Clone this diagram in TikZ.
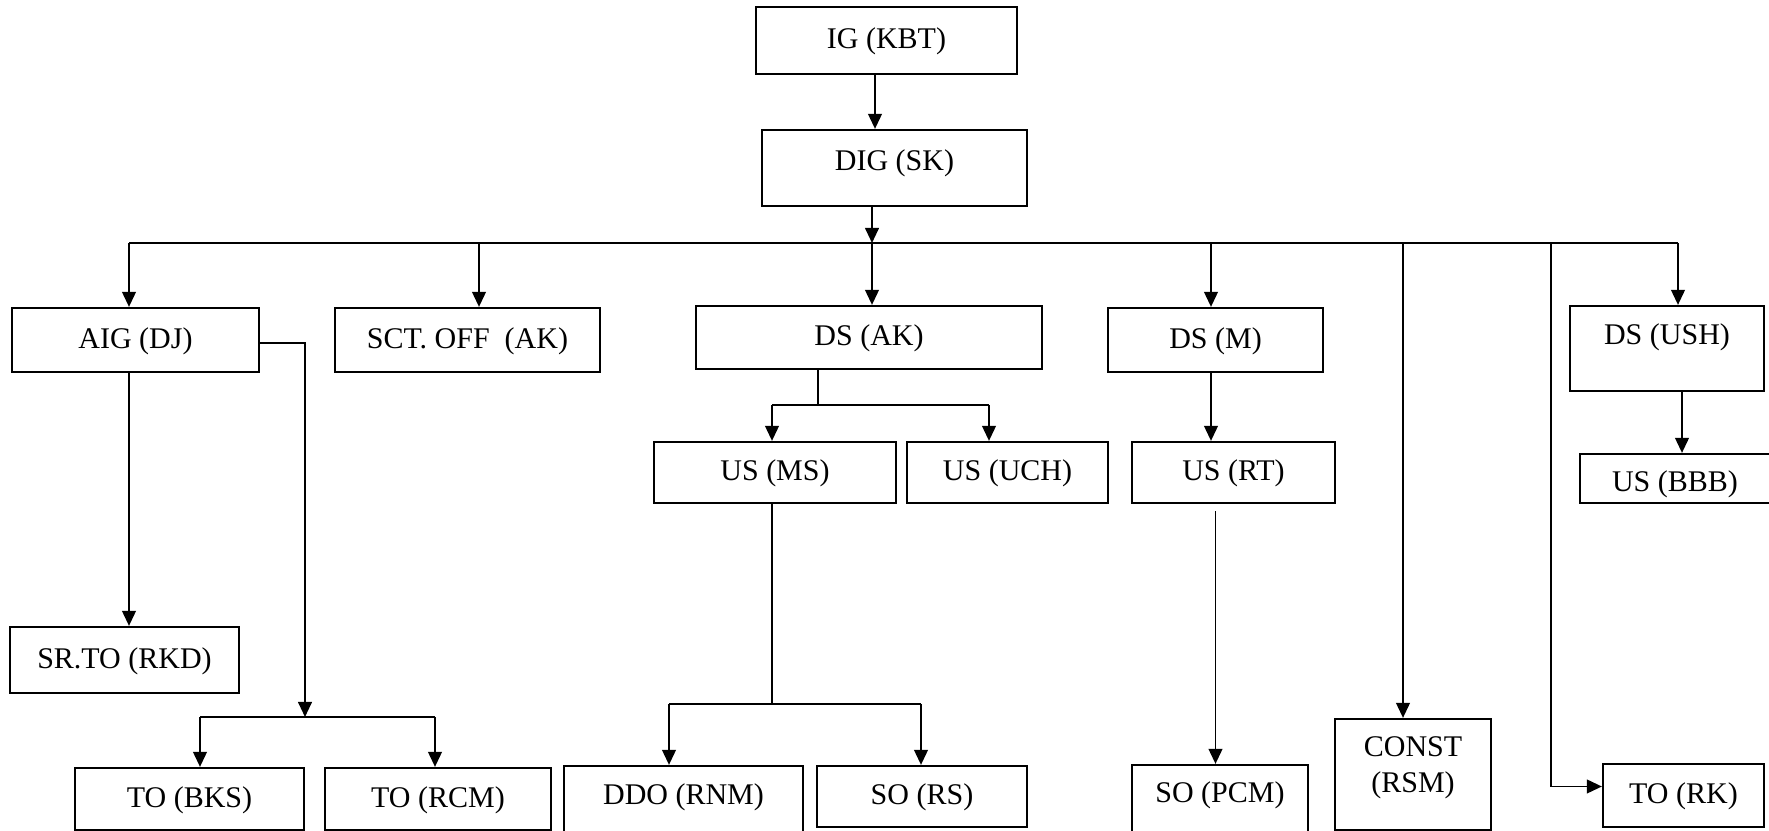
\documentclass[tikz,border=0pt]{standalone}
\usepackage{fontspec}
\setmainfont{Liberation Serif}
\usetikzlibrary{arrows.meta,positioning,calc}

\begin{document}
\begin{tikzpicture}[x=0.4pt, y=-0.4pt,
    box/.style={draw, line width=0.9pt, inner sep=0pt, font=\fontsize{12}{14.4}\selectfont, text height=9pt, text depth=2.3pt},
    conn/.style={line width=0.7pt},
    arrow/.style={line width=0.7pt, -{Triangle[length=6pt,width=5.5pt]}}]

        \useasboundingbox (0,0) rectangle (1769,831);

        % Top
        \node[box, minimum width=104.4pt, minimum height=26.8pt] (ig) at (886.5,40.5) {IG (KBT)};
        \node[box, minimum width=106pt, minimum height=30.4pt, text depth=6.7pt] (dig) at (894.5,168) {DIG (SK)};

        % Second row
        \node[box, minimum width=98.8pt, minimum height=25.6pt] (aig) at (135.5,340) {AIG (DJ)};
        \node[box, minimum width=106pt, minimum height=25.6pt] (sct) at (467.5,340) {SCT. OFF\ \ (AK)};
        \node[box, minimum width=138.4pt, minimum height=25.2pt] (dsak) at (869,337.5) {DS (AK)};
        \node[box, minimum width=86pt, minimum height=25.6pt] (dsm) at (1215.5,340) {DS (M)};
        \node[box, minimum width=77.6pt, minimum height=34pt, text depth=11.9pt] (dsush) at (1667,348.5) {DS (USH)};

        % Third row
        \node[box, minimum width=96.8pt, minimum height=24.4pt] (usms) at (775,472.5) {US (MS)};
        \node[box, minimum width=80.4pt, minimum height=24.4pt] (usuch) at (1007.5,472.5) {US (UCH)};
        \node[box, minimum width=81.2pt, minimum height=24.4pt] (usrt) at (1233.5,472.5) {US (RT)};
        \node[box, minimum width=76pt, minimum height=19.6pt, text height=13pt] (usbbb) at (1675,478.5) {US (BBB)};
        \node[box, minimum width=91.6pt, minimum height=26.4pt] (srto) at (124.5,660) {SR.TO (RKD)};

        % Bottom row
        \node[box, minimum width=91.6pt, minimum height=24.8pt] (tobks) at (189.5,799) {TO (BKS)};
        \node[box, minimum width=90.4pt, minimum height=24.8pt] (torcm) at (438,799) {TO (RCM)};
        \node[box, minimum width=95.6pt, minimum height=28pt, text depth=5.9pt] (ddo) at (683.5,801) {DDO (RNM)};
        \node[box, minimum width=84pt, minimum height=24.4pt] (sors) at (922,796.5) {SO (RS)};
        \node[box, minimum width=70.4pt, minimum height=28.4pt, text depth=7.1pt] (sopcm) at (1220,800.5) {SO (PCM)};
        \node[box, minimum width=62.4pt, minimum height=44.4pt, text depth=23.1pt] (const) at (1413,774.5) {\begin{tabular}[t]{@{}c@{}}CONST\\(RSM)\end{tabular}};
        \node[box, minimum width=64.4pt, minimum height=25.2pt] (tork) at (1683.5,795.5) {TO (RK)};

        % Main bus
        \coordinate (split) at (872,243);
        \coordinate (bus_l) at (129,243);
        \coordinate (bus_r) at (1678,243);
        \coordinate (rk_drop) at (1551,243);

        \draw[arrow] ([xshift=-4.6pt]ig.south) -- ([xshift=-4.6pt]ig.south |- dig.north);
        \draw[arrow] (dig.south -| split) -- (split);
        \draw[conn] (bus_l) -- (bus_r);
        \foreach \x/\n in {129/aig, 479/sct, 872/dsak, 1211/dsm, 1403/const, 1678/dsush}{
            \coordinate (drop) at (\x,243);
            \draw[arrow] (drop) -- (drop |- \n.north);
        }
        \draw[arrow] (rk_drop) |- ([yshift=3.6pt]tork.west);

        % AIG branch
        \coordinate (to_split) at (305,717);
        \coordinate (to_l) at (200,717);
        \coordinate (to_r) at (435,717);
        \draw[arrow] (aig.south -| bus_l) -- (srto.north -| bus_l);
        \draw[arrow] ([yshift=-1.2pt]aig.east) -| (to_split);
        \draw[conn] (to_l) -- (to_r);
        \draw[arrow] (to_l) -- (to_l |- tobks.north);
        \draw[arrow] (to_r) -- (to_r |- torcm.north);

        % DS (AK) branch
        \coordinate (us_split) at (818,405);
        \coordinate (us_l) at (772,405);
        \coordinate (us_r) at (989,405);
        \draw[conn] (dsak.south -| us_split) -- (us_split);
        \draw[conn] (us_l) -- (us_r);
        \draw[arrow] (us_l) -- (us_l |- usms.north);
        \draw[arrow] (us_r) -- (us_r |- usuch.north);

        % US (MS) branch
        \coordinate (so_l) at (669,704);
        \coordinate (so_r) at (921,704);
        \draw[conn] (usms.south -| us_l) -- (us_l |- so_l);
        \draw[conn] (so_l) -- (so_r);
        \draw[arrow] (so_l) -- (so_l |- ddo.north);
        \draw[arrow] (so_r) -- (so_r |- sors.north);

        % DS (M) and DS (USH) branches
        \draw[arrow] ([xshift=-1.8pt]dsm.south) -- ([xshift=-1.8pt]dsm.south |- usrt.north);
        \draw[arrow] ([yshift=-2.8pt]dsm.south |- usrt.south) -- (dsm.south |- sopcm.north);
        \draw[arrow] ([xshift=6pt]dsush.south) -- ([xshift=6pt]dsush.south |- usbbb.north);

    \end{tikzpicture}
\end{document}
